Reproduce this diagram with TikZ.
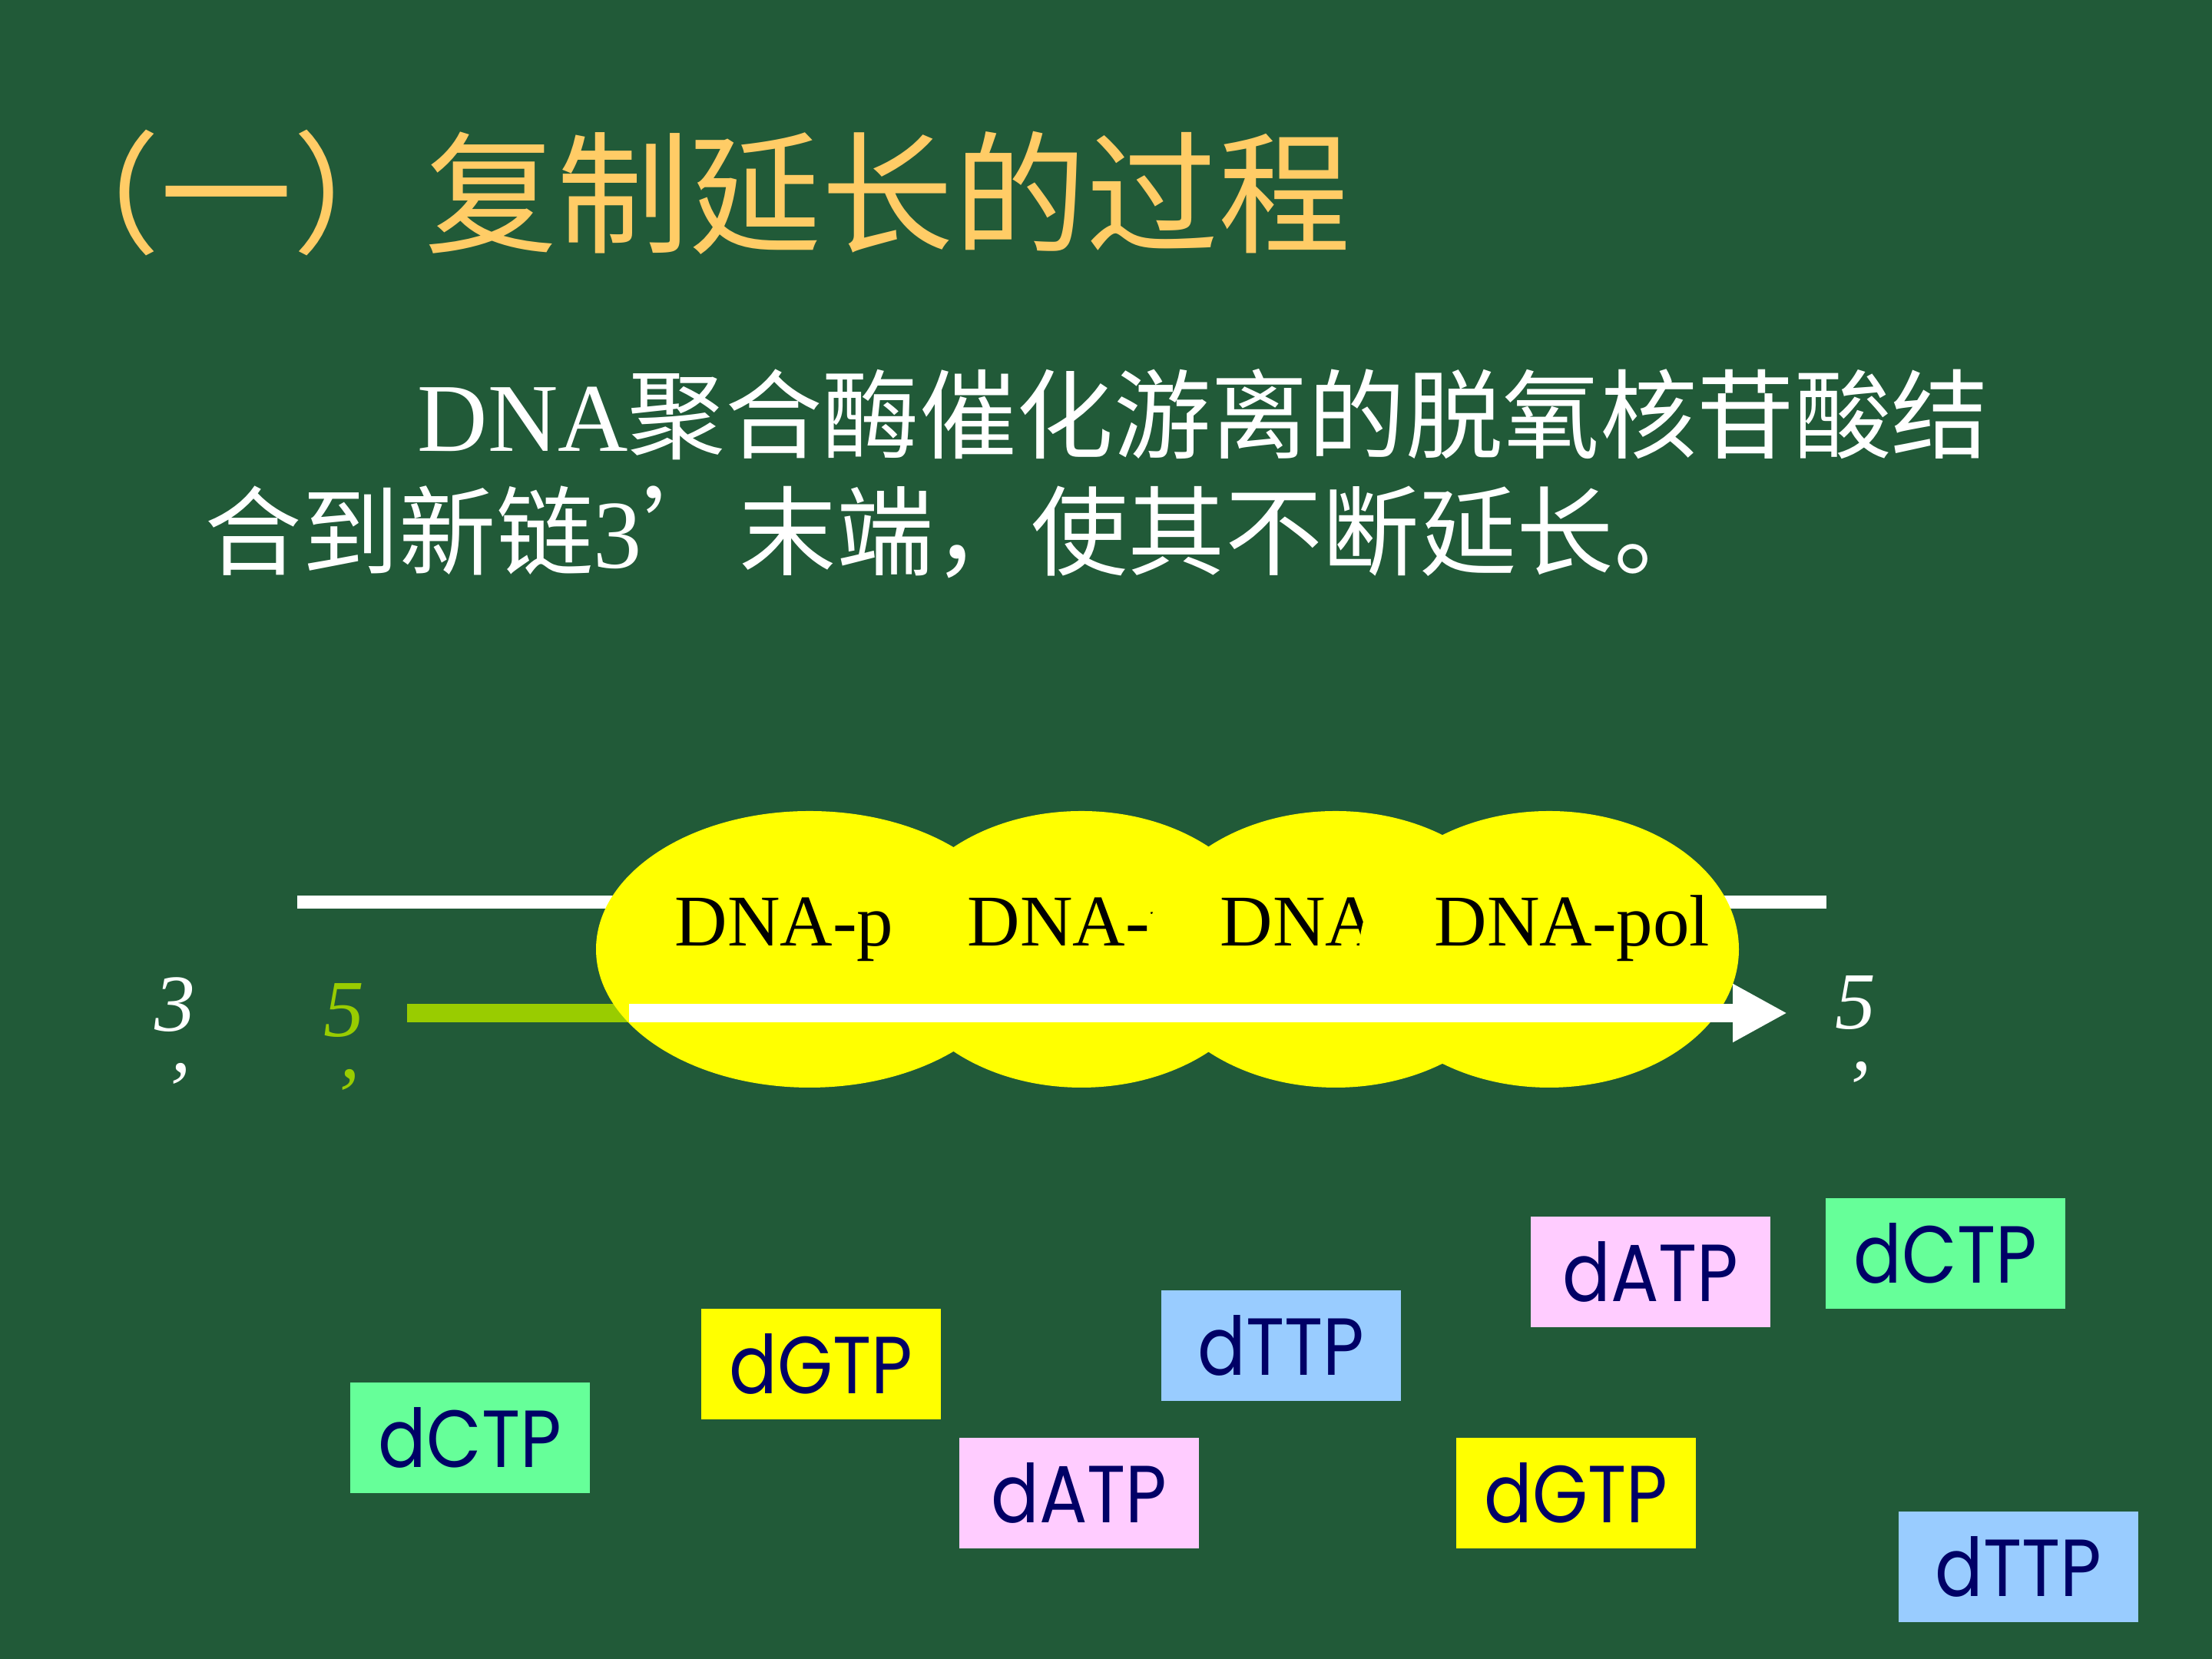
\documentclass[tikz,border=0pt]{standalone}
\usepackage{fontspec}
\setmainfont{Liberation Serif}
\newfontfamily\cjk{Noto Sans CJK SC}
\newfontfamily\ntpfont[FakeStretch=0.88]{Poppins}
\usetikzlibrary{arrows.meta,shapes.geometric}
\definecolor{board}{HTML}{215A38}
\definecolor{titlegold}{HTML}{FFCC66}
\definecolor{primer}{HTML}{99CC00}
\definecolor{polyellow}{HTML}{FFFF00}
\definecolor{ntpgreen}{HTML}{66FF99}
\definecolor{ntpyellow}{HTML}{FFFF00}
\definecolor{ntppink}{HTML}{FFCCFF}
\definecolor{ntpblue}{HTML}{99CCFF}
\definecolor{ntpnavy}{HTML}{000066}

\begin{document}
\begin{tikzpicture}[>=Stealth,
  blob/.style={ellipse, fill=polyellow, inner sep=0pt, minimum height=3.6cm},
  poltxt/.style={anchor=base west, inner sep=0pt, font=\fontsize{27}{30}\selectfont},
  body/.style={anchor=base west, inner sep=0pt, text=white, font=\fontsize{36}{42}\selectfont},
  ntp/.style={minimum width=3.12cm, minimum height=1.44cm, inner sep=0pt, text=ntpnavy,
    font=\ntpfont\fontsize{30}{34}\selectfont},
  endlab/.style={anchor=north, inner sep=0pt, align=center, font=\itshape\fontsize{30}{32}\selectfont},
]
  \fill[board] (0,0) rectangle (28.8,21.6);
  \useasboundingbox (0,0) rectangle (28.8,21.6);

  \node[anchor=west, inner sep=0pt, text=titlegold, font=\cjk\fontsize{49}{55}\selectfont]
    (title) at (0.36,19.09) {（一）复制延长的过程};
  \node[body] (line1) at (5.43,15.72) {DNA{\cjk 聚合酶催化游离的脱氧核苷酸结}};
  \node[body] (line2) at (2.66,14.20) {{\cjk 合到新链}3{\cjk ’末端，使其不断延长。}};

  % template strand and primer
  \coordinate (tmpl-a) at (3.87,9.85);
  \coordinate (tmpl-b) at (23.78,9.85);
  \coordinate (prim-a) at (5.30,8.41);
  \coordinate (prim-b) at (8.19,8.41);
  \coordinate (grow-b) at (23.27,8.41);
  \draw[white, line width=0.17cm] (tmpl-a) -- (tmpl-b);
  \draw[primer, line width=0.24cm] (prim-a) -- (prim-b);

  % polymerase
  \node[blob, minimum width=5.56cm] (pol1) at (10.54,9.24) {};
  \node[poltxt] (lab1) at (8.78,9.28) {DNA-pol};
  \node[blob, minimum width=4.94cm] (pol2) at (14.08,9.24) {};
  \node[poltxt] (lab2) at (12.59,9.28) {DNA-pol};
  \node[blob, minimum width=4.94cm] (pol3) at (17.39,9.24) {};
  \node[poltxt] (lab3) at (15.88,9.28) {DNA-pol};
  \node[blob, minimum width=4.94cm] (pol4) at (20.17,9.24) {};
  \node[poltxt] (lab4) at (18.67,9.28) {DNA-pol};

  \draw[white, line width=0.24cm, -{Triangle[length=7.1mm, width=7.1mm]}] (prim-b) -- (grow-b);

  \node[endlab, text=white] (end3) at (2.28,8.88) {3\\’};
  \node[endlab, text=primer] (end5a) at (4.48,8.80) {5\\’};
  \node[endlab, text=white] (end5b) at (24.16,8.90) {5\\’};

  % free nucleotides
  \node[ntp, fill=ntpgreen] (c1) at (6.12,2.88) {dCTP};
  \node[ntp, fill=ntpyellow] (g1) at (10.69,3.84) {dGTP};
  \node[ntp, fill=ntppink] (a1) at (14.05,2.16) {dATP};
  \node[ntp, fill=ntpblue] (t1) at (16.68,4.08) {dTTP};
  \node[ntp, fill=ntpyellow] (g2) at (20.52,2.16) {dGTP};
  \node[ntp, fill=ntppink] (a2) at (21.49,5.04) {dATP};
  \node[ntp, fill=ntpgreen] (c2) at (25.33,5.28) {dCTP};
  \node[ntp, fill=ntpblue] (t2) at (26.28,1.20) {dTTP};
\end{tikzpicture}
\end{document}
